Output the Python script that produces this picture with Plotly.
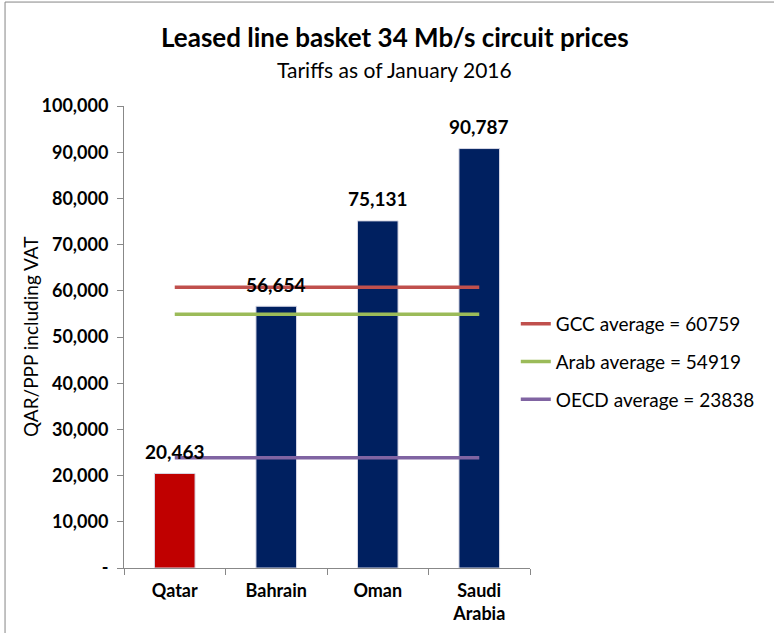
import plotly.graph_objects as go

# Chart data
countries = ["Qatar", "Bahrain", "Oman", "Saudi<br>Arabia"]
prices = [20463, 56654, 75131, 90787]
bar_colors = ["#C00000", "#002060", "#002060", "#002060"]

avg_names = ["GCC average = 60759", "Arab average = 54919", "OECD average = 23838"]
avg_values = [60759, 54919, 23838]
avg_colors = ["#C0504D", "#9BBB59", "#8064A2"]

y_ticks = [0, 10000, 20000, 30000, 40000, 50000, 60000, 70000, 80000, 90000, 100000]
y_tick_labels = ["-"] + [f"{v:,}" for v in y_ticks[1:]]

FONT = "Lato"

fig = go.Figure()

fig.add_trace(go.Bar(
    x=countries, y=prices,
    marker=dict(color=bar_colors, line=dict(color="#d9d9e6", width=1)),
    showlegend=False,
))

# Average lines drawn across all categories
for i, (name, val, col) in enumerate(zip(avg_names, avg_values, avg_colors)):
    fig.add_trace(go.Scatter(
        x=countries, y=[val] * len(countries),
        mode="lines", name=name,
        line=dict(color=col, width=3.5),
        legendgroup=f"g{i}",
    ))

# Data labels above bars
for c, v in zip(countries, prices):
    fig.add_annotation(
        x=c, y=v, text=f"<b>{v:,}</b>", showarrow=False,
        yshift=22, font=dict(family=FONT, size=19, color="black"),
    )

# Title, subtitle and y-axis title
fig.add_annotation(
    xref="paper", yref="paper", x=0.667, y=1.149, xanchor="center", yanchor="middle",
    text="<b>Leased line basket 34 Mb/s circuit prices</b>", showarrow=False,
    font=dict(family=FONT, size=26, color="black"),
)
fig.add_annotation(
    xref="paper", yref="paper", x=0.667, y=1.080, xanchor="center", yanchor="middle",
    text="Tariffs as of January 2016", showarrow=False,
    font=dict(family=FONT, size=21, color="black"),
)
fig.add_annotation(
    xref="paper", yref="paper", x=-0.2315, y=0.5, xanchor="center", yanchor="middle",
    text="QAR/PPP including VAT", textangle=-90, showarrow=False,
    font=dict(family=FONT, size=19, color="black"),
)

# Outer chart frame
fig.add_shape(
    type="rect", xref="paper", yref="paper",
    x0=-0.293, y0=-0.4, x1=1.8, y1=1.225,
    line=dict(color="#868686", width=1),
)

fig.update_layout(
    width=774, height=633,
    margin=dict(l=124, r=244, t=106, b=65),
    plot_bgcolor="white", paper_bgcolor="white",
    font=dict(family=FONT, color="black"),
    bargap=0.6,
    legend=dict(
        x=0.965, y=0.446, xanchor="left", yanchor="middle",
        font=dict(family=FONT, size=19, color="black"),
        tracegroupgap=10, bgcolor="rgba(0,0,0,0)",
    ),
    xaxis=dict(
        showline=True, linecolor="#888888", linewidth=1,
        ticks="outside", tickson="boundaries", ticklen=6, tickcolor="#888888",
        tickfont=dict(family=FONT, size=18, color="black", weight="bold"),
        ticklabelstandoff=6, showgrid=False, automargin=False,
    ),
    yaxis=dict(
        range=[0, 100000], tickvals=y_ticks, ticktext=y_tick_labels,
        showline=True, linecolor="#888888", linewidth=1,
        ticks="outside", ticklen=6, tickcolor="#888888",
        tickfont=dict(family=FONT, size=18, color="black", weight="bold"),
        ticklabelstandoff=5, showgrid=False, zeroline=False, automargin=False,
    ),
)

fig.write_html("out.html", config={"displayModeBar": False},
               post_script="document.body.style.margin='0';")
